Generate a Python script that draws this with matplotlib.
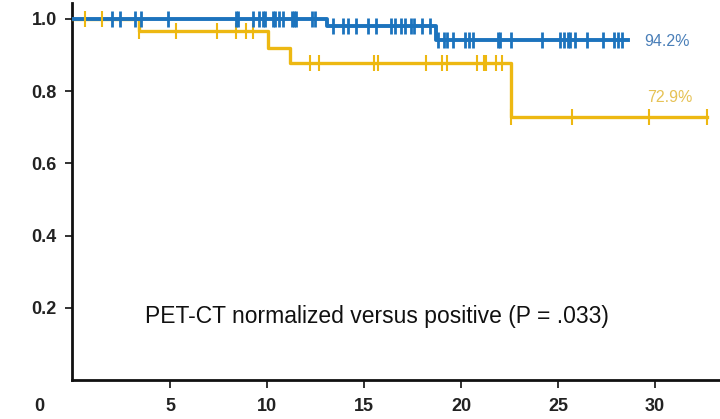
import numpy as np
import matplotlib
matplotlib.use("Agg")
import matplotlib.pyplot as plt

# Kaplan-Meier style curves
blue_times = [0, 13.1, 18.7]
blue_surv = [1.0, 0.98, 0.942]
blue_end = 28.6
blue_censor = [2.0, 2.4, 3.2, 3.5, 4.9, 8.4, 8.5, 9.3, 9.6, 9.8, 9.9, 10.3, 10.4,
               10.6, 10.8, 11.3, 11.4, 11.5, 12.3, 12.5,
               13.4, 13.9, 14.2, 14.6, 15.2, 15.6, 16.4, 16.6, 16.9, 17.1, 17.4,
               17.6, 18.0, 18.4,
               18.8, 19.1, 19.3, 19.6, 20.2, 20.4, 20.6, 21.9, 22.0, 22.6, 24.2,
               25.1, 25.3, 25.5, 25.6, 25.9, 26.5, 27.3, 27.9, 28.1, 28.3]

yellow_times = [0, 3.4, 10.05, 11.2, 22.6]
yellow_surv = [1.0, 0.967, 0.92, 0.877, 0.729]
yellow_end = 32.7
yellow_censor = [0.6, 1.5, 3.4, 5.3, 7.4, 8.4, 8.9, 9.3,
                 12.2, 12.7, 15.5, 15.7, 18.2, 19.0, 19.3, 20.8, 21.2, 21.3,
                 21.8, 22.1,
                 22.6, 25.7, 29.7, 32.7]

blue_label = "94.2%"
yellow_label = "72.9%"
note = "PET-CT normalized versus positive (P = .033)"
xticks = [5, 10, 15, 20, 25, 30]
yticks = [0.2, 0.4, 0.6, 0.8, 1.0]

BLUE = "#1c73bd"
YELLOW = "#edb812"

tick_font = ["Liberation Sans Narrow", "Liberation Sans", "DejaVu Sans"]


def surv_at(times, surv, t):
    idx = np.searchsorted(times, t, side="right") - 1
    return np.array(surv)[idx]


fig = plt.figure(figsize=(7.2, 4.19), dpi=100)
ax = fig.add_axes([0.1, 0.093, 0.9, 0.9])

for times, surv, end, cens, col, lw, mew in [
        (yellow_times, yellow_surv, yellow_end, yellow_censor, YELLOW, 2.4, 1.5),
        (blue_times, blue_surv, blue_end, blue_censor, BLUE, 2.8, 2.0)]:
    tx = list(times) + [end]
    sy = list(surv) + [surv[-1]]
    ax.step(tx, sy, where="post", color=col, lw=lw, zorder=3)
    cx = np.array(cens)
    ax.plot(cx, surv_at(times, surv, cx), ls="none", marker="|", ms=11,
            mew=mew, color=col, zorder=4)

ax.text(29.45, 0.937, blue_label, color="#4a7fb8", fontsize=11.5,
        va="center", ha="left", family=["Liberation Sans", "DejaVu Sans"])
ax.text(29.6, 0.783, yellow_label, color="#e6c255", fontsize=11.5,
        va="center", ha="left", family=["Liberation Sans", "DejaVu Sans"])
ax.text(3.7, 0.175, note, fontsize=16.5, color="#111111",
        va="center", ha="left", family=["Liberation Sans", "DejaVu Sans"])

ax.set_xlim(-0.05, 33.35)
ax.set_ylim(0, 1.044)
ax.set_xticks(xticks)
ax.set_yticks(yticks)
ax.set_yticklabels([f"{v:.1f}" for v in yticks])
ax.tick_params(axis="x", direction="out", length=6, width=1.3, pad=7,
               labelsize=13, colors="#222222")
ax.tick_params(axis="y", direction="out", length=5, width=1.3, pad=6,
               labelsize=13, colors="#222222")
for lab in ax.get_xticklabels() + ax.get_yticklabels():
    lab.set_family(tick_font)
    lab.set_fontweight("bold")
ax.text(-1.75, 0, "0", fontsize=13, color="#222222", ha="center",
        va="top", family=tick_font, fontweight="bold", clip_on=False,
        transform=ax.transData)

for s in ["top", "right"]:
    ax.spines[s].set_visible(False)
for s in ["left", "bottom"]:
    ax.spines[s].set_linewidth(2)
    ax.spines[s].set_color("#111111")

fig.canvas.draw()
# line the "0" up with the other x tick labels
ref = ax.get_xticklabels()[0].get_window_extent()
zero = ax.texts[-1]
zero.set_transform(ax.get_xaxis_transform())
zero.set_position((-1.75, ax.transAxes.inverted().transform((0, ref.y1))[1]))

fig.savefig("out.png", dpi=100)
